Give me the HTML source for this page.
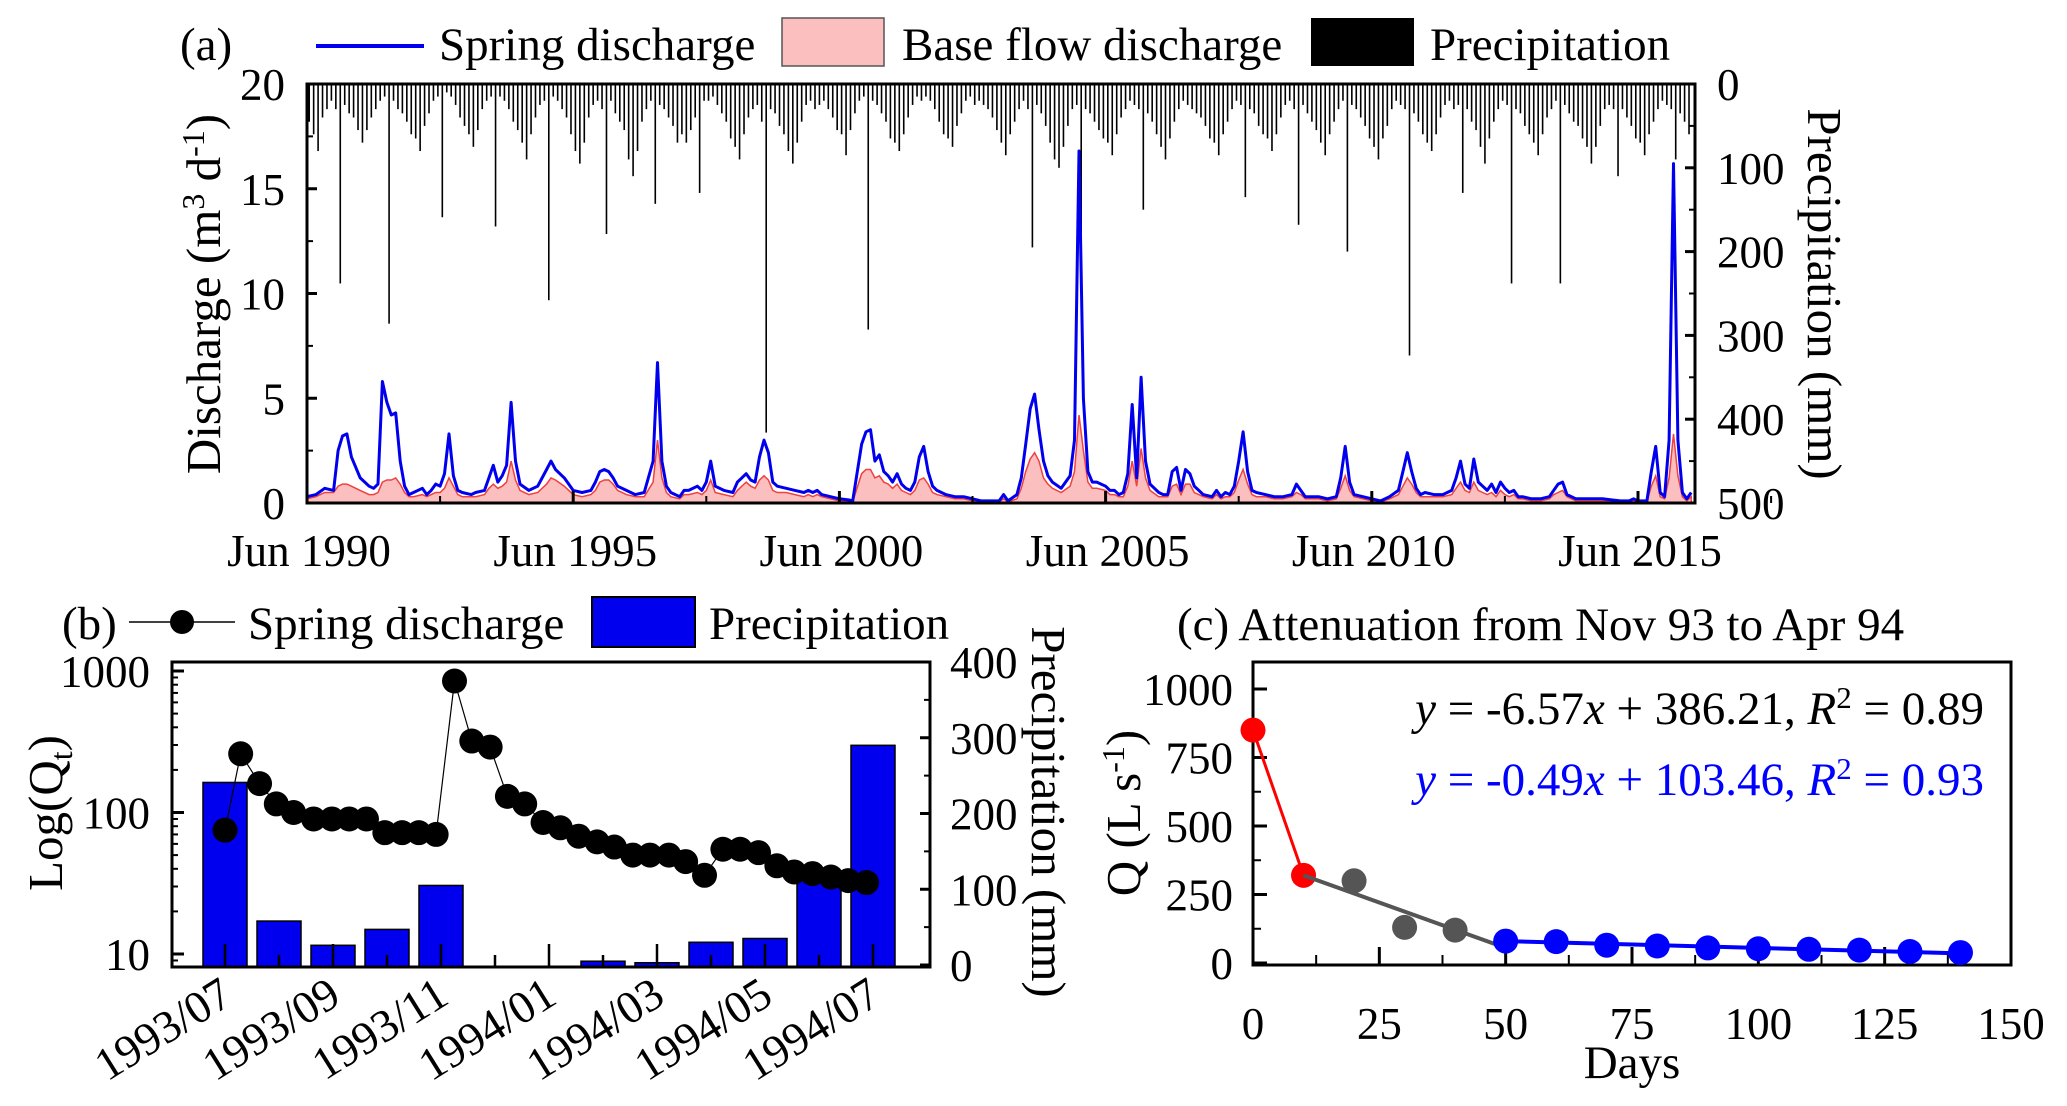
<!DOCTYPE html>
<html><head><meta charset="utf-8">
<style>
html,body{margin:0;padding:0;background:#fff;}
svg{display:block;font-family:"Liberation Serif",serif;}
</style></head>
<body>
<svg id="fig" width="2067" height="1106" viewBox="0 0 2067 1106" xmlns="http://www.w3.org/2000/svg">
<g id="pa"></g>
<g id="pb"></g>
<g id="pc"></g>
</svg>
<script>
// ===== Panel (a) data: month index 0 = Jun 1990 =====
const precipMonthly = [
45,60,80,40,30,20,30,238,25,35,40,55,
70,55,40,30,20,15,286,20,30,35,45,60,
65,80,50,35,20,15,159,10,15,25,40,50,
60,75,55,30,20,15,170,15,20,30,45,55,
70,90,60,40,25,20,258,15,20,30,40,60,
80,95,70,40,25,20,30,179,20,35,45,55,
90,110,80,45,30,20,143,25,30,40,50,70,
60,70,55,40,130,20,20,15,25,35,45,65,
75,90,60,40,30,25,45,416,30,35,50,60,
80,95,70,45,25,20,30,25,20,30,40,55,
60,85,55,35,20,15,293,20,25,35,45,65,
70,80,60,40,25,15,20,15,20,30,45,60,
65,75,50,35,20,15,25,20,25,30,40,55,
70,85,60,45,30,20,30,195,25,35,50,70,
90,100,75,50,30,25,198,30,35,45,55,65,
70,85,60,40,30,20,25,30,150,35,45,60,
75,90,65,45,30,20,25,30,35,40,50,65,
70,85,60,45,30,20,25,135,30,35,50,60,
65,80,60,40,25,20,30,168,25,35,45,55,
70,85,60,45,30,20,200,25,30,40,50,65,
75,90,65,50,30,20,25,30,324,35,45,60,
70,80,60,40,25,20,30,25,130,30,45,55,
75,95,65,45,30,20,25,238,30,35,50,60,
70,85,60,40,30,20,238,25,35,45,50,65,
75,95,75,50,30,25,30,110,30,40,50,65,
70,85,60,45,30,20,25,30,90,35,45,60];
const dischargeMonths = [0,2,4,6,7,8,9,10,12,14,15,16,17,18,19,20,21,22,23,24,26,27,28,29,30,31,32,33,34,35,37,38,40,41,42,43,44,45,46,47,48,50,52,54,55,56,58,60,62,64,65,66,67,68,69,70,72,74,76,78,79,80,81,82,84,85,86,88,89,90,91,92,94,96,97,98,99,100,101,102,103,104,105,106,108,110,112,113,114,115,116,118,120,122,123,125,126,127,128,129,130,131,132,133,134,135,136,137,138,139,140,141,142,144,146,148,150,152,154,156,157,158,160,161,162,163,164,165,166,167,168,170,172,173,174,175,176,177,178,180,181,182,183,184,185,186,187,188,189,190,192,193,194,195,196,197,198,199,200,201,202,204,205,206,207,208,209,210,211,212,213,214,216,218,220,222,223,224,225,226,228,230,232,233,234,235,236,238,240,242,244,246,247,248,249,250,251,252,254,256,258,259,260,261,262,263,264,265,266,267,268,269,270,271,272,273,274,276,278,280,281,282,283,284,285,286,288,290,292,294,296,298,299,300,302,303,304,305,306,307,308,309,310,311,312];
const dischargeValues = [0.3,0.4,0.7,0.6,2.5,3.2,3.3,2.2,1.2,0.8,0.7,0.9,5.8,4.8,4.2,4.3,2.0,0.8,0.4,0.5,0.7,0.4,0.6,0.9,0.8,1.4,3.3,1.3,0.6,0.5,0.4,0.5,0.6,1.2,1.8,1.0,1.3,1.8,4.8,2.0,0.9,0.6,0.8,1.6,2.0,1.6,1.2,0.6,0.5,0.6,1.0,1.5,1.6,1.5,1.2,0.8,0.6,0.4,0.5,2.0,6.7,2.0,0.8,0.5,0.3,0.6,0.6,0.8,0.6,1.0,2.0,0.8,0.6,0.5,1.0,1.2,1.4,1.1,1.0,2.2,3.0,2.4,1.0,0.8,0.7,0.6,0.5,0.6,0.5,0.6,0.4,0.3,0.2,0.15,0.1,2.8,3.4,3.5,2.0,2.3,1.5,1.3,1.0,1.4,0.9,0.7,0.6,1.0,2.2,2.7,1.5,0.8,0.6,0.4,0.3,0.3,0.2,0.1,0.1,0.1,0.4,0.1,0.4,1.2,2.8,4.5,5.2,3.5,2.0,1.3,1.0,0.7,1.3,3.0,16.8,5.0,1.5,1.0,1.0,0.8,0.6,0.6,0.4,0.5,1.4,4.7,1.2,6.0,2.0,0.9,0.5,0.4,0.4,1.5,1.7,0.6,1.6,1.4,0.8,0.6,0.4,0.3,0.6,0.3,0.5,0.4,0.8,2.0,3.4,1.5,0.6,0.5,0.4,0.3,0.3,0.4,0.9,0.6,0.3,0.3,0.3,0.2,0.3,1.2,2.7,1.0,0.4,0.3,0.2,0.1,0.3,0.6,1.5,2.4,1.5,0.7,0.4,0.5,0.4,0.4,0.6,1.2,2.0,0.9,0.7,2.1,1.0,0.8,0.6,0.9,0.5,1.0,0.7,0.5,0.6,0.3,0.3,0.2,0.2,0.3,0.6,0.9,1.0,0.4,0.3,0.2,0.2,0.2,0.2,0.15,0.1,0.1,0.2,0.1,0.1,1.5,2.7,0.5,0.3,3.0,16.2,3.0,0.5,0.2,0.5];
const baseflowValues = [0.2,0.3,0.5,0.5,0.8,0.9,0.9,0.8,0.6,0.4,0.4,0.5,1.0,1.1,1.1,1.2,0.9,0.5,0.3,0.3,0.4,0.3,0.4,0.5,0.5,0.7,1.2,0.8,0.4,0.3,0.3,0.3,0.4,0.7,0.9,0.7,0.8,1.0,2.0,1.1,0.6,0.4,0.5,0.9,1.2,1.1,0.8,0.4,0.3,0.4,0.6,1.0,1.1,1.1,0.9,0.6,0.4,0.3,0.3,1.0,3.0,1.2,0.5,0.3,0.2,0.4,0.4,0.5,0.4,0.6,1.1,0.5,0.4,0.3,0.6,0.8,1.0,0.8,0.7,1.1,1.3,1.1,0.6,0.5,0.5,0.4,0.3,0.4,0.3,0.4,0.3,0.2,0.1,0.1,0.05,1.4,1.6,1.6,1.2,1.3,1.0,0.9,0.7,0.9,0.6,0.5,0.4,0.6,1.1,1.2,0.9,0.5,0.4,0.3,0.2,0.2,0.1,0.05,0.05,0.05,0.2,0.05,0.2,0.7,1.5,2.1,2.4,2.0,1.2,0.9,0.7,0.5,0.8,1.5,4.2,2.5,1.0,0.7,0.7,0.6,0.4,0.4,0.3,0.3,0.8,2.0,0.8,2.6,1.2,0.6,0.3,0.3,0.3,0.8,0.9,0.4,0.9,0.9,0.5,0.4,0.3,0.2,0.4,0.2,0.3,0.3,0.5,1.1,1.6,0.9,0.4,0.3,0.3,0.2,0.2,0.3,0.5,0.4,0.2,0.2,0.2,0.1,0.2,0.7,1.3,0.6,0.3,0.2,0.1,0.05,0.2,0.4,0.8,1.2,0.9,0.5,0.3,0.3,0.3,0.3,0.4,0.7,1.0,0.6,0.5,1.0,0.6,0.5,0.4,0.5,0.3,0.6,0.4,0.3,0.4,0.2,0.2,0.1,0.1,0.2,0.4,0.5,0.6,0.3,0.2,0.1,0.1,0.1,0.1,0.1,0.05,0.05,0.1,0.05,0.05,0.8,1.3,0.3,0.2,1.2,3.3,1.3,0.3,0.1,0.3];
const aXTickLabels = ["Jun 1990","Jun 1995","Jun 2000","Jun 2005","Jun 2010","Jun 2015"];
const aYTicks = [0,5,10,15,20];
const aPrecipTicks = [0,100,200,300,400,500];

// ===== Panel (b) data: month index 0 = 1993/07 =====
const bBarMonths = [0,1,2,3,4,5,6,7,8,9,10,11,12];
const bPrecip = [241,58,26,47,105,0,0,5,3,30,35,115,290];
const bQMonths = [0,0.29,0.64,0.95,1.27,1.64,1.98,2.30,2.62,2.96,3.28,3.59,3.91,4.25,4.57,4.91,5.23,5.55,5.89,6.21,6.55,6.89,7.21,7.55,7.87,8.22,8.53,8.88,9.22,9.54,9.88,10.22,10.54,10.88,11.22,11.54,11.88];
const bQValues = [75,260,160,115,100,90,90,90,90,72,72,72,70,850,320,290,130,115,85,78,68,62,57,50,50,50,45,36,55,55,52,42,38,37,35,33,32];
const bXTickLabels = ["1993/07","1993/09","1993/11","1994/01","1994/03","1994/05","1994/07"];
const bLogTicks = [10,100,1000];
const bPrecipTicks = [0,100,200,300,400];

// ===== Panel (c) data =====
const cRedDays = [0,10];
const cRedQ = [850,320];
const cGrayDays = [20,30,40];
const cGrayQ = [300,130,120];
const cBlueDays = [50,60,70,80,90,100,110,120,130,140];
const cBlueQ = [80,78,65,62,55,52,50,47,42,38];
const cGrayFit = [[10,320],[50,55]];
const cBlueFit = [[50,80],[140,35]];
const cXTicks = [0,25,50,75,100,125,150];
const cYTicks = [0,250,500,750,1000];

const NS="http://www.w3.org/2000/svg";
function mk(parent,tag,attrs,text){const e=document.createElementNS(NS,tag);for(const k in attrs)e.setAttribute(k,attrs[k]);if(text!==undefined)e.textContent=text;parent.appendChild(e);return e;}
const FS=47;   // legends/titles
const TS=45;   // tick labels
const AS=49;   // axis titles

// ---------- Panel A ----------
(function(){
const g=document.getElementById('pa');
const L=307,R=1695,T=84,B=503;
const perMonth=(1638-307)/300;
const x=m=>L+m*perMonth;
const y=v=>B-(v/20)*(B-T);
const yp=p=>T+(p/500)*(B-T);
const pg=mk(g,'g',{});


precipMonthly.forEach((p,i)=>{
  const xx=x(i+0.5); if(xx>R-2) return;
  const r=mk(pg,'rect',{x:xx-0.8,y:T,width:1.6,height:yp(p)-T,fill:'#000'});
  
  
});
let d='M'+x(dischargeMonths[0])+','+y(0);
dischargeMonths.forEach((m,i)=>{d+=' L'+x(m).toFixed(1)+','+y(baseflowValues[i]).toFixed(1);});
d+=' L'+x(dischargeMonths[dischargeMonths.length-1])+','+y(0)+' Z';
const bf=mk(g,'path',{d:d,fill:'#fbbfbf',stroke:'#f04040','stroke-width':1.5});


let d2='';
dischargeMonths.forEach((m,i)=>{d2+=(i?' L':'M')+x(m).toFixed(1)+','+y(dischargeValues[i]).toFixed(1);});
const sl=mk(g,'path',{d:d2,fill:'none',stroke:'#0000ee','stroke-width':3,'stroke-linejoin':'round'});


const fr=mk(g,'rect',{x:L,y:T,width:R-L,height:B-T,fill:'none',stroke:'#000','stroke-width':3});


aYTicks.forEach(v=>{
  mk(g,'line',{x1:L,x2:L+10,y1:y(v),y2:y(v),stroke:'#000','stroke-width':3});
  if(v<20) mk(g,'line',{x1:L,x2:L+6,y1:y(v+2.5),y2:y(v+2.5),stroke:'#000','stroke-width':2});
  const t=mk(g,'text',{x:L-22,y:y(v)+16,'font-size':TS,'text-anchor':'end'},v);
  
  
});
aPrecipTicks.forEach(v=>{
  mk(g,'line',{x1:R,x2:R-10,y1:yp(v),y2:yp(v),stroke:'#000','stroke-width':3});
  if(v<500) mk(g,'line',{x1:R,x2:R-6,y1:yp(v+50),y2:yp(v+50),stroke:'#000','stroke-width':2});
  const t=mk(g,'text',{x:R+22,y:yp(v)+16,'font-size':TS},v);
  
  
});
aXTickLabels.forEach((s,i)=>{
  const xx=x(i*60);
  mk(g,'line',{x1:xx,x2:xx,y1:B,y2:B-12,stroke:'#000','stroke-width':3});
  mk(g,'line',{x1:x(i*60+30),x2:x(i*60+30),y1:B,y2:B-7,stroke:'#000','stroke-width':2});
  const t=mk(g,'text',{x:xx+2,y:566,'font-size':TS,'text-anchor':'middle'},s);
  
  
});
const yt=mk(g,'text',{x:0,y:0,'font-size':AS,'text-anchor':'middle',transform:'translate(220,294) rotate(-90)'});


yt.innerHTML='Discharge (m<tspan dy="-16" font-size="32">3</tspan><tspan dy="16"> d</tspan><tspan dy="-16" font-size="32">-1</tspan><tspan dy="16">)</tspan>';
const rt=mk(g,'text',{x:0,y:0,'font-size':AS,'text-anchor':'middle',transform:'translate(1808,294) rotate(90)'},'Precipitation (mm)');


const lg=mk(g,'g',{});


mk(lg,'text',{x:180,y:60,'font-size':FS},'(a)');
mk(lg,'line',{x1:316,x2:424,y1:46,y2:46,stroke:'#0000ee','stroke-width':4});
mk(lg,'text',{x:439,y:60,'font-size':FS},'Spring discharge');
mk(lg,'rect',{x:782,y:18,width:102,height:48,fill:'#fbbfbf',stroke:'#555','stroke-width':1.5});
mk(lg,'text',{x:902,y:60,'font-size':FS},'Base flow discharge');
mk(lg,'rect',{x:1311,y:18,width:103,height:48,fill:'#000'});
mk(lg,'text',{x:1430,y:60,'font-size':FS},'Precipitation');
})();

// ---------- Panel B ----------
(function(){
const g=document.getElementById('pb');
const L=172,R=930,T=662,B=967;
const step=54;
const x=m=>225+m*step;
const yl=v=>671+(3-Math.log10(v))*141.5;
const yp=p=>965-(p/400)*(965-662);
const bars=mk(g,'g',{});


bBarMonths.forEach((m,i)=>{
  if(bPrecip[i]<=0) return;
  const r=mk(bars,'rect',{x:x(m)-22,y:yp(bPrecip[i]),width:44,height:B-yp(bPrecip[i]),fill:'#0000ee',stroke:'#000','stroke-width':1.5});
  
  
});
bBarMonths.forEach(m=>{mk(g,'line',{x1:x(m),x2:x(m),y1:B,y2:B-(m%2===0?23:12),stroke:'#000','stroke-width':2.5});});
let d='';
bQMonths.forEach((m,i)=>{d+=(i?' L':'M')+x(m).toFixed(1)+','+yl(bQValues[i]).toFixed(1);});
const ln=mk(g,'path',{d:d,fill:'none',stroke:'#000','stroke-width':1.2});


bQMonths.forEach((m,i)=>{
  const c=mk(g,'circle',{cx:x(m),cy:yl(bQValues[i]),r:12.5,fill:'#000'});
  
  
});
const fr=mk(g,'rect',{x:L,y:T,width:R-L,height:B-T,fill:'none',stroke:'#000','stroke-width':3});


bLogTicks.forEach(v=>{
  mk(g,'line',{x1:L,x2:L+12,y1:yl(v),y2:yl(v),stroke:'#000','stroke-width':3});
  const t=mk(g,'text',{x:L-22,y:yl(v)+16,'font-size':TS,'text-anchor':'end'},v);
  
  
});
[2,3,4,5,6,7,8,9,20,30,40,50,60,70,80,90,200,300,400,500,600,700,800,900].forEach(v=>{
  if(yl(v)>B) return;
  mk(g,'line',{x1:L,x2:L+6,y1:yl(v),y2:yl(v),stroke:'#000','stroke-width':2});
});
bPrecipTicks.forEach(v=>{
  mk(g,'line',{x1:R,x2:R-10,y1:yp(v),y2:yp(v),stroke:'#000','stroke-width':3});
  if(v<400) mk(g,'line',{x1:R,x2:R-6,y1:yp(v+50),y2:yp(v+50),stroke:'#000','stroke-width':2});
  const t=mk(g,'text',{x:R+20,y:yp(v)+16,'font-size':TS},v);
  
  
});
bXTickLabels.forEach((s,i)=>{
  const xx=x(i*2)+10;
  const t=mk(g,'text',{x:0,y:0,'font-size':46,'text-anchor':'end',transform:`translate(${xx},1002) rotate(-32)`},s);
  
  
});
const yt=mk(g,'text',{x:0,y:0,'font-size':AS,'text-anchor':'middle',transform:'translate(62,813) rotate(-90)'});


yt.innerHTML='Log(Q<tspan dy="10" font-size="32">t</tspan><tspan dy="-10">)</tspan>';
const rt=mk(g,'text',{x:0,y:0,'font-size':AS,'text-anchor':'middle',transform:'translate(1032,812) rotate(90)'},'Precipitation (mm)');


const lg=mk(g,'g',{});


mk(lg,'text',{x:62,y:639,'font-size':FS},'(b)');
mk(lg,'line',{x1:129,x2:235,y1:622,y2:622,stroke:'#000','stroke-width':1.5});
mk(lg,'circle',{cx:182,cy:622,r:12,fill:'#000'});
mk(lg,'text',{x:248,y:639,'font-size':FS},'Spring discharge');
mk(lg,'rect',{x:592,y:597,width:103,height:50,fill:'#0000ee',stroke:'#000','stroke-width':2});
mk(lg,'text',{x:709,y:639,'font-size':FS},'Precipitation');
})();

// ---------- Panel C ----------
(function(){
const g=document.getElementById('pc');
const L=1253,R=2011,T=662,B=965;
const x=d=>L+(d/150)*(R-L);
const y=q=>963-q*0.274;
const fr=mk(g,'rect',{x:L,y:T,width:R-L,height:B-T,fill:'none',stroke:'#000','stroke-width':3});


cYTicks.forEach(v=>{
  mk(g,'line',{x1:L,x2:L+14,y1:y(v),y2:y(v),stroke:'#000','stroke-width':3});
  if(v<1000) mk(g,'line',{x1:L,x2:L+8,y1:y(v+125),y2:y(v+125),stroke:'#000','stroke-width':2});
  const t=mk(g,'text',{x:L-20,y:y(v)+16,'font-size':TS,'text-anchor':'end'},v);
  
  
});
cXTicks.forEach(v=>{
  mk(g,'line',{x1:x(v),x2:x(v),y1:B,y2:B-18,stroke:'#000','stroke-width':3});
  if(v<150) mk(g,'line',{x1:x(v+12.5),x2:x(v+12.5),y1:B,y2:B-10,stroke:'#000','stroke-width':2});
  const t=mk(g,'text',{x:x(v),y:1039,'font-size':TS,'text-anchor':'middle'},v);
  
  
});
const xt=mk(g,'text',{x:x(75),y:1078,'font-size':FS,'text-anchor':'middle'},'Days');


const yt=mk(g,'text',{x:0,y:0,'font-size':AS,'text-anchor':'middle',transform:'translate(1140,813) rotate(-90)'});


yt.innerHTML='Q (L s<tspan dy="-16" font-size="32">-1</tspan><tspan dy="16">)</tspan>';
const rl=mk(g,'line',{x1:x(cRedDays[0]),y1:y(cRedQ[0]),x2:x(cRedDays[1]),y2:y(cRedQ[1]),stroke:'#ff0000','stroke-width':3});


cRedDays.forEach((dd,i)=>{const c=mk(g,'circle',{cx:x(dd),cy:y(cRedQ[i]),r:12.5,fill:'#ff0000'});
  
  });
cGrayDays.forEach((dd,i)=>{const c=mk(g,'circle',{cx:x(dd),cy:y(cGrayQ[i]),r:12.5,fill:'#555'});
  
  });
const gl=mk(g,'line',{x1:x(cGrayFit[0][0]),y1:y(cGrayFit[0][1]),x2:x(cGrayFit[1][0]),y2:y(cGrayFit[1][1]),stroke:'#555','stroke-width':4});


const bl=mk(g,'line',{x1:x(cBlueFit[0][0]),y1:y(cBlueFit[0][1]),x2:x(cBlueFit[1][0]),y2:y(cBlueFit[1][1]),stroke:'#0000ff','stroke-width':4});


cBlueDays.forEach((dd,i)=>{const c=mk(g,'circle',{cx:x(dd),cy:y(cBlueQ[i]),r:12.5,fill:'#0000ff'});
  
  });
const tt=mk(g,'text',{x:1177,y:640,'font-size':FS},'(c) Attenuation from Nov 93 to Apr 94');


const e1=mk(g,'text',{x:1984,y:724,'font-size':FS,'text-anchor':'end'});


e1.innerHTML='<tspan font-style="italic">y</tspan> = -6.57<tspan font-style="italic">x</tspan> + 386.21, <tspan font-style="italic">R</tspan><tspan dy="-16" font-size="31">2</tspan><tspan dy="16"> = 0.89</tspan>';
const e2=mk(g,'text',{x:1984,y:795,'font-size':FS,'text-anchor':'end',fill:'#0000ff'});


e2.innerHTML='<tspan font-style="italic">y</tspan> = -0.49<tspan font-style="italic">x</tspan> + 103.46, <tspan font-style="italic">R</tspan><tspan dy="-16" font-size="31">2</tspan><tspan dy="16"> = 0.93</tspan>';
})();
</script>
</body></html>
